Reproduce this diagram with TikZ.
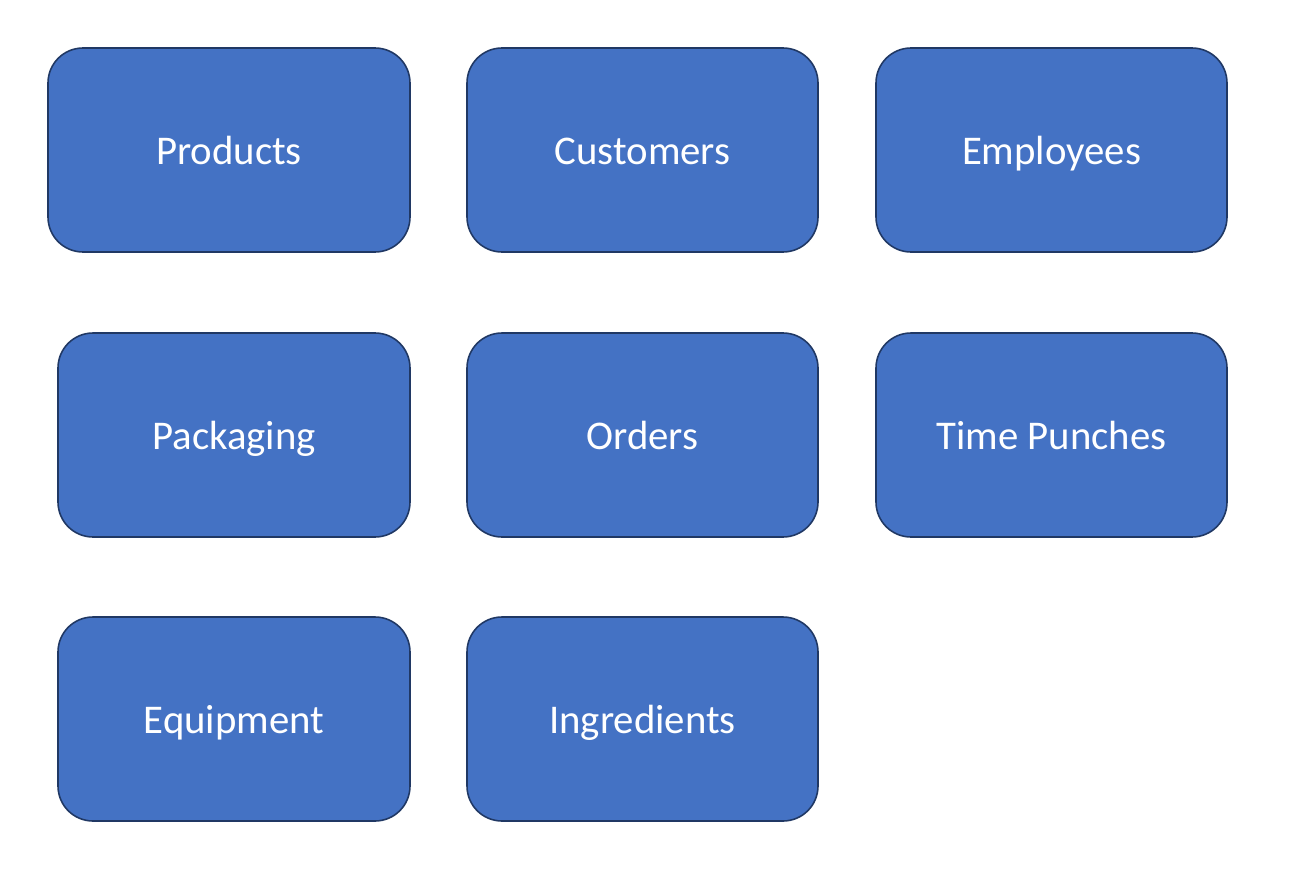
\documentclass[tikz,border=0pt]{standalone}
\usepackage{fontspec}
\setmainfont{Carlito}
\usetikzlibrary{positioning}

\definecolor{boxblue}{HTML}{4472C4}
\definecolor{boxedge}{HTML}{203864}

\begin{document}
\begin{tikzpicture}[%
    node distance=2cm,
    on grid,
    entity/.style={draw=boxedge, line width=0.9pt, fill=boxblue, text=white,
      rounded corners=0.7cm, minimum width=7.02cm, minimum height=4.08cm,
      text height=0.76cm, text depth=0.2cm,
      font=\fontsize{23.2}{28}\selectfont}
  ]
  \useasboundingbox (0,0) rectangle (25.92,-17.52);
  \node[entity, minimum width=7.24cm] (products) at (4.58,-3.0) {Products};
  \node[entity] (customers) [right=8.27cm of products] {Customers};
  \node[entity] (employees) [right=8.18cm of customers] {Employees};

  \node[entity] (orders) [below=5.7cm of customers] {Orders};
  \node[entity, minimum width=7.04cm] (packaging) [left=8.17cm of orders] {Packaging};
  \node[entity] (punches) [right=8.18cm of orders] {Time Punches};

  \node[entity] (ingredients) [below=5.68cm of orders] {Ingredients};
  \node[entity, minimum width=7.04cm] (equipment) [left=8.17cm of ingredients] {Equipment};
\end{tikzpicture}
\end{document}
